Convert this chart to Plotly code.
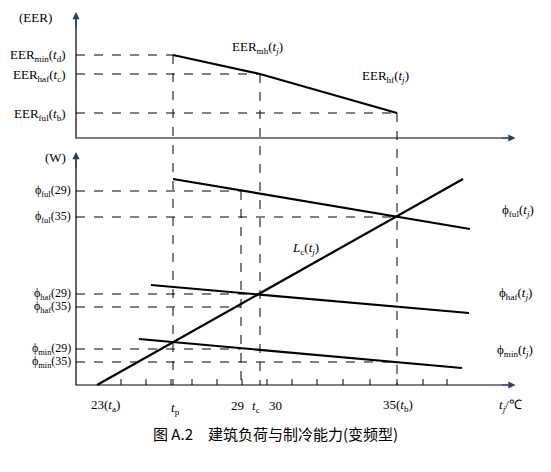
import plotly.graph_objects as go

# pixel helpers -> data coordinates (x in deg C, y in arbitrary units)
def T(px): return 23 + (px - 97) / 25.0
def Y(py): return 472 - py

# ---- data ----
t_p, t_29, t_c, t_b = T(173), T(241), T(260), T(397)
eer_t = [t_p, t_c, t_b]
eer_v = [Y(55), Y(74), Y(113)]
phi_ful_x = [T(173), T(470)]; phi_ful_y = [Y(179), Y(229)]
phi_haf_x = [T(151), T(469)]; phi_haf_y = [Y(285), Y(313)]
phi_min_x = [T(139), T(462)]; phi_min_y = [Y(339), Y(368)]
load_x = [T(97), T(463)]; load_y = [Y(385), Y(179)]
phi_marks = {"ful29": (Y(191), t_29), "ful35": (Y(217), t_b),
             "haf29": (Y(294), t_c), "haf35": (Y(307), t_29),
             "min29": (Y(349), t_29), "min35": (Y(362), t_b)}
tick_t = [T(p) for p in [121, 146, 171, 192, 217, 242, 267, 292, 317, 343, 370, 397, 423, 447]]

X0 = T(76); XEND = T(508)
TOP_BASE = Y(138); BOT_BASE = Y(385)

fig = go.Figure()
blk = dict(color="black", width=2.2)
dash = dict(color="black", width=1, dash="dash")
def line(xs, ys, st):
    fig.add_trace(go.Scatter(x=xs, y=ys, mode="lines", line=st, hoverinfo="skip", showlegend=False))

# axes
line([X0, X0, XEND], [Y(18), TOP_BASE, TOP_BASE], dict(color="black", width=1.2))
line([X0, X0, XEND], [Y(158), BOT_BASE, BOT_BASE], dict(color="black", width=1.2))
for (x, y, ax, ay) in [(X0, Y(12), X0, Y(30)), (XEND + 0.3, TOP_BASE, XEND - 0.3, TOP_BASE),
                       (X0, Y(152), X0, Y(170)), (XEND + 0.3, BOT_BASE, XEND - 0.3, BOT_BASE)]:
    fig.add_annotation(x=x, y=y, ax=ax, ay=ay, xref="x", yref="y", axref="x", ayref="y",
                       showarrow=True, arrowhead=2, arrowsize=1.2, arrowwidth=1.2, text="")
for t in tick_t:
    line([t, t], [BOT_BASE, BOT_BASE + 6], dict(color="black", width=1))

# EER curve + dashed guides
line(eer_t, eer_v, blk)
for t, v in zip(eer_t, eer_v):
    line([X0, t], [v, v], dash)
for t, v in zip(eer_t, eer_v):
    line([t, t], [v, BOT_BASE], dash)
line([t_29, t_29], [Y(191), BOT_BASE], dash)

# capacity lines and load
for xs, ys in [(phi_ful_x, phi_ful_y), (phi_haf_x, phi_haf_y), (phi_min_x, phi_min_y), (load_x, load_y)]:
    line(xs, ys, blk)
for k, (v, t) in phi_marks.items():
    line([X0, t], [v, v], dash)

F = "Liberation Serif"
def txt(x, y, s, size=13, anchor="center", font=F):
    fig.add_annotation(x=x, y=y, text=s, showarrow=False, xanchor=anchor, yanchor="middle",
                       font=dict(family=font, size=size, color="black"))

txt(T(35), Y(17), "(EER)")
txt(T(68), Y(55), "EER<sub>min</sub>(<i>t</i><sub>d</sub>)", anchor="right")
txt(T(68), Y(75), "EER<sub>haf</sub>(<i>t</i><sub>c</sub>)", anchor="right")
txt(T(68), Y(114), "EER<sub>ful</sub>(<i>t</i><sub>b</sub>)", anchor="right")
txt(T(257), Y(47), "EER<sub>mh</sub>(<i>t<sub>j</sub></i>)")
txt(T(385), Y(76), "EER<sub>hf</sub>(<i>t<sub>j</sub></i>)")
txt(T(55), Y(157), "(W)")
for lab, v in [("ful", "(29)"), ("ful", "(35)"), ("haf", "(29)"), ("haf", "(35)"), ("min", "(29)"), ("min", "(35)")]:
    key = lab + v[1:3]
    txt(T(73), phi_marks[key][0], "ϕ<sub>" + lab + "</sub>" + v, size=12, anchor="right")
txt(T(518), Y(210), "ϕ<sub>ful</sub>(<i>t<sub>j</sub></i>)")
txt(T(515), Y(293), "ϕ<sub>haf</sub>(<i>t<sub>j</sub></i>)")
txt(T(515), Y(350), "ϕ<sub>min</sub>(<i>t<sub>j</sub></i>)")
txt(T(305), Y(248), "<i>L</i><sub>c</sub>(<i>t<sub>j</sub></i>)")
txt(T(105), Y(405), "23(<i>t</i><sub>a</sub>)")
txt(T(175), Y(408), "<i>t</i><sub>p</sub>")
txt(T(237), Y(405), "29")
txt(T(256), Y(406), "<i>t</i><sub>c</sub>")
txt(T(275), Y(405), "30")
txt(T(398), Y(405), "35(<i>t</i><sub>b</sub>)")
txt(T(510), Y(405), "<i>t<sub>j</sub></i>/℃")
txt(T(275), Y(433), "图 A.2　建筑负荷与制冷能力(变频型)", size=15, font="Noto Sans CJK SC")

fig.update_layout(width=551, height=472, margin=dict(l=0, r=0, t=0, b=0),
                  plot_bgcolor="white", paper_bgcolor="white", showlegend=False)
# shift by the page's 8px body margin
fig.update_xaxes(range=[T(8), T(559)], visible=False, fixedrange=True)
fig.update_yaxes(range=[Y(480), Y(8)], visible=False, fixedrange=True)
fig.write_html("out.html")
